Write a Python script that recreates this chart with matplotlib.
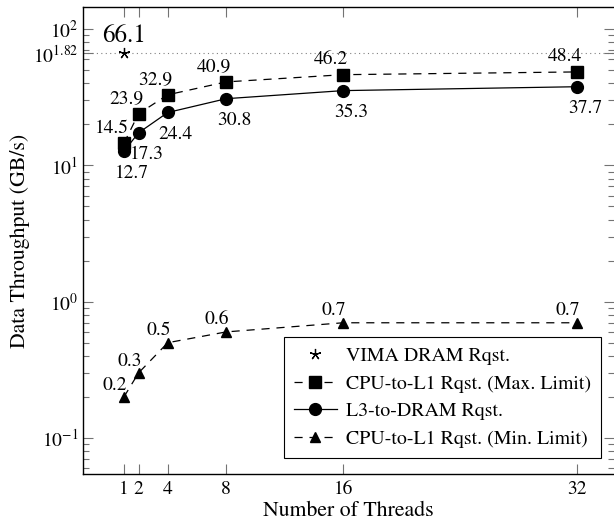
import numpy as np
import matplotlib
matplotlib.use('Agg')
import matplotlib.pyplot as plt

plt.rcParams['font.family'] = ['STIXGeneral', 'DejaVu Serif']
plt.rcParams['mathtext.fontset'] = 'stix'

# Data
threads = [1, 2, 4, 8, 16, 32]
vima_x = [1]
vima_y = [66.1]
cpu_l1_max = [14.5, 23.9, 32.9, 40.9, 46.2, 48.4]
l3_dram = [12.7, 17.3, 24.4, 30.8, 35.3, 37.7]
cpu_l1_min = [0.2, 0.3, 0.5, 0.6, 0.7, 0.7]
ytick_vals = [0.1, 1, 10, 10**1.82, 100]
ytick_labels = [r'$10^{-1}$', r'$10^{0}$', r'$10^{1}$', r'$10^{1.82}$', r'$10^{2}$']

fig = plt.figure(figsize=(6.14, 5.27), dpi=100)
ax = fig.add_axes([83/614, 53/527, 531/614, 467/527])

dash = (0, (6.5, 5.5))
ax.axhline(10**1.82, color='0.5', lw=0.8, ls=(0, (1, 3)), zorder=1)

ax.plot(vima_x, vima_y, ls='none', marker=(5, 2, 0), color='black', ms=8,
        markeredgewidth=0.9, label='VIMA DRAM Rqst.', zorder=3)
ax.plot(threads, cpu_l1_max, ls=dash, marker='s', color='black', ms=8,
        lw=0.9, label='CPU-to-L1 Rqst. (Max. Limit)', zorder=3)
ax.plot(threads, l3_dram, ls='-', marker='o', color='black', ms=8.5,
        lw=0.9, label='L3-to-DRAM Rqst.', zorder=3)
ax.plot(threads, cpu_l1_min, ls=dash, marker='^', color='black', ms=6.5,
        lw=0.9, label='CPU-to-L1 Rqst. (Min. Limit)', zorder=3)

px = 72 / 100  # pixels to points
for x, y in zip(vima_x, vima_y):
    ax.annotate(f'{y:.1f}', (x, y), xytext=(0, 17*px), textcoords='offset points',
                ha='center', va='center', fontsize=18)
for x, y in zip(threads, cpu_l1_max):
    ax.annotate(f'{y:.1f}', (x, y), xytext=(-12*px, 15*px), textcoords='offset points',
                ha='center', va='center', fontsize=14)
for x, y in zip(threads, l3_dram):
    ax.annotate(f'{y:.1f}', (x, y), xytext=(8*px, -22*px), textcoords='offset points',
                ha='center', va='center', fontsize=14)
for x, y in zip(threads, cpu_l1_min):
    ax.annotate(f'{y:.1f}', (x, y), xytext=(-9*px, 12*px), textcoords='offset points',
                ha='center', va='center', fontsize=14)

ax.set_yscale('log')
ax.set_xlim(-1.8, 34.53)
ax.set_ylim(10**-1.264, 10**2.161)
ax.set_xticks(threads)
ax.set_xticklabels([str(t) for t in threads])
ax.set_yticks(ytick_vals)
ax.set_yticklabels(ytick_labels)
ax.yaxis.set_minor_locator(matplotlib.ticker.LogLocator(base=10, subs=np.arange(2, 10)))
ax.yaxis.set_minor_formatter(matplotlib.ticker.NullFormatter())

ax.tick_params(axis='both', which='both', direction='in', colors='0.45',
               labelcolor='black', labelsize=14, top=True, right=True)
ax.tick_params(axis='both', which='major', length=7.5, width=0.8)
ax.tick_params(axis='y', which='minor', length=4.5, width=0.8)
ax.tick_params(axis='x', pad=5)
ax.spines['right'].set_visible(False)
for s in ['left', 'bottom', 'top']:
    ax.spines[s].set_linewidth(1.0)

ax.set_xlabel('Number of Threads', fontsize=15.7, labelpad=2)
ax.set_ylabel('Data Throughput (GB/s)', fontsize=15.7, labelpad=2)

leg = ax.legend(loc='lower right', bbox_to_anchor=(0.976, 0.034), fontsize=14.3,
                frameon=True, fancybox=False, edgecolor='black', framealpha=1,
                handlelength=2.2, labelspacing=0.5, borderpad=0.5, handletextpad=0.45,
                borderaxespad=0)
leg.get_frame().set_linewidth(0.8)

fig.savefig('out.png', dpi=100)
